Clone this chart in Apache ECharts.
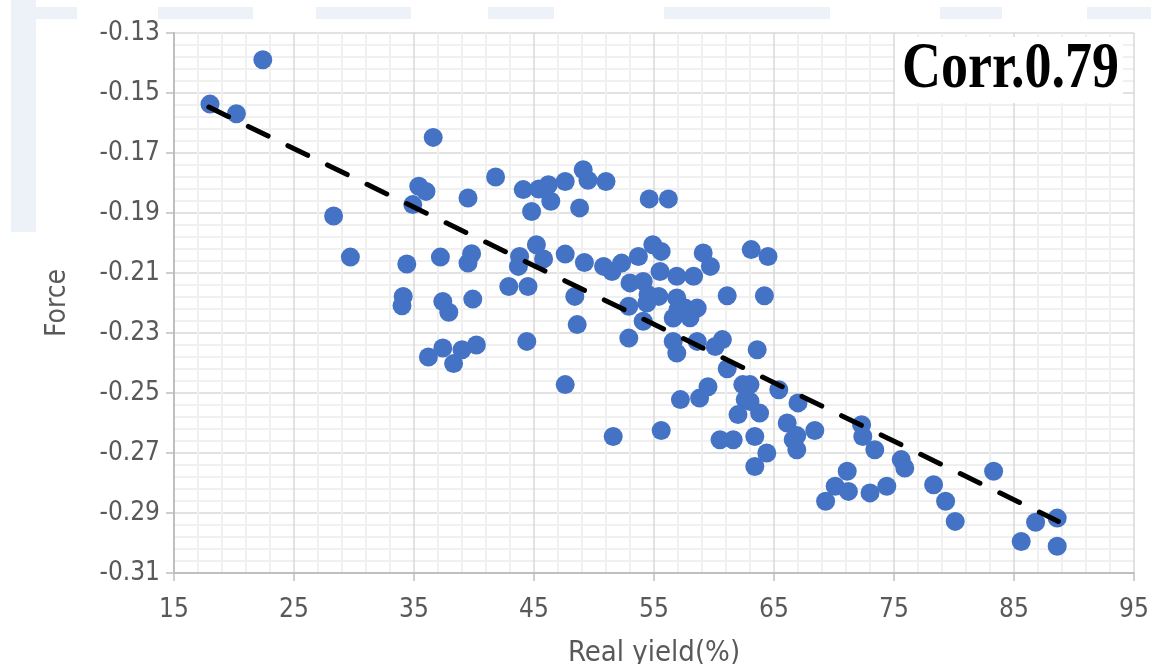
<!DOCTYPE html>
<html>
<head>
<meta charset="utf-8">
<script src="https://cdn.jsdelivr.net/npm/echarts@6/dist/echarts.min.js"></script>
<style>
html,body{margin:0;padding:0;background:#fff;}
#chart{width:1151px;height:664px;}
</style>
</head>
<body>
<div id="chart"></div>
<script>
// ---- data ----
const realYield = [18.0, 20.2, 22.4, 36.6, 35.4, 36.0, 39.5, 41.8, 34.9, 28.3,
  29.7, 34.4, 37.2, 39.8, 39.5, 34.1, 34.0, 37.4, 37.9, 39.9,
  36.2, 37.4, 38.3, 39.0, 40.2, 44.1, 45.4, 46.2, 46.4, 44.8,
  47.6, 49.1, 49.5, 51.0, 48.8, 54.6, 56.2, 45.2, 43.8, 43.7,
  45.8, 47.6, 49.2, 42.9, 44.5, 48.4, 48.6, 44.4, 47.6, 51.6,
  55.6, 50.8, 51.5, 52.3, 53.7, 54.9, 55.6, 55.5, 56.9, 53.0,
  54.1, 54.5, 55.4, 54.4, 56.9, 57.0, 57.6, 58.6, 58.3, 59.1,
  59.7, 52.9, 54.1, 52.9, 56.6, 56.9, 58.6, 56.6, 61.1, 60.7,
  60.1, 63.1, 64.5, 64.2, 58.0, 63.6, 61.1, 62.4, 63.0, 65.4,
  59.5, 58.8, 62.6, 63.0, 62.0, 63.8, 60.5, 61.6, 63.4, 64.4,
  63.4, 66.1, 66.6, 67.0, 57.2, 66.9, 66.9, 68.4, 72.3, 72.4,
  73.4, 71.1, 70.1, 71.2, 69.3, 73.0, 74.4, 75.6, 75.9, 78.3,
  79.3, 80.1, 83.3, 85.6, 86.8, 88.6, 88.6];
const force = [-0.1537, -0.1569, -0.1389, -0.1648, -0.1811, -0.1828, -0.1850, -0.1780, -0.1872, -0.1910,
  -0.2047, -0.2070, -0.2047, -0.2036, -0.2067, -0.2178, -0.2209, -0.2195, -0.2231, -0.2187,
  -0.2380, -0.2350, -0.2402, -0.2356, -0.2340, -0.1822, -0.1820, -0.1806, -0.1861, -0.1895,
  -0.1795, -0.1756, -0.1791, -0.1795, -0.1883, -0.1853, -0.1853, -0.2006, -0.2045, -0.2078,
  -0.2053, -0.2037, -0.2065, -0.2145, -0.2145, -0.2178, -0.2272, -0.2328, -0.2472, -0.2645,
  -0.2625, -0.2078, -0.2095, -0.2067, -0.2045, -0.2006, -0.2028, -0.2095, -0.2111, -0.2133,
  -0.2128, -0.2172, -0.2178, -0.2200, -0.2183, -0.2222, -0.2217, -0.2217, -0.2111, -0.2033,
  -0.2078, -0.2211, -0.2261, -0.2317, -0.2328, -0.2367, -0.2328, -0.2250, -0.2176, -0.2322,
  -0.2345, -0.2022, -0.2045, -0.2176, -0.2249, -0.2356, -0.2419, -0.2472, -0.2472, -0.2489,
  -0.2479, -0.2517, -0.2522, -0.2528, -0.2572, -0.2567, -0.2656, -0.2656, -0.2645, -0.2700,
  -0.2745, -0.2600, -0.2656, -0.2533, -0.2522, -0.2642, -0.2689, -0.2625, -0.2606, -0.2645,
  -0.2689, -0.2761, -0.2811, -0.2828, -0.2861, -0.2833, -0.2811, -0.2722, -0.2750, -0.2806,
  -0.2861, -0.2928, -0.2761, -0.2995, -0.2931, -0.2917, -0.3011];
const trendX = [17.9, 88.7];
const trendY = [-0.1547, -0.2928];
const xTicks = [15, 25, 35, 45, 55, 65, 75, 85, 95];
const yTicks = ['-0.31', '-0.29', '-0.27', '-0.25', '-0.23', '-0.21', '-0.19', '-0.17', '-0.15', '-0.13'];
const corrLabel = 'Corr.0.79';
const xName = 'Real yield(%)';
const yName = 'Force';

// ---- build ----
const points = realYield.map((x, i) => [x, force[i]]);
const trend = trendX.map((x, i) => [x, trendY[i]]);
const labelFont = "'DejaVu Sans Condensed', 'Open Sans', sans-serif";
const axisGray = '#bfbfbf';
const hatch = '#edf2f9';

const chart = echarts.init(document.getElementById('chart'), null, {renderer: 'canvas'});
const option = {
  backgroundColor: '#ffffff',
  animation: false,
  grid: {left: 174, right: 17, top: 33, bottom: 91, containLabel: false, outerBoundsMode: 'none'},
  xAxis: {
    type: 'value',
    min: xTicks[0], max: xTicks[xTicks.length - 1], interval: xTicks[1] - xTicks[0],
    name: xName, nameLocation: 'middle', nameGap: 66,
    nameTextStyle: {fontFamily: labelFont, fontSize: 29, color: '#595959'},
    axisLine: {show: true, onZero: false, lineStyle: {color: axisGray, width: 2}},
    axisTick: {show: true, length: 8, lineStyle: {color: axisGray, width: 1.5}},
    axisLabel: {fontFamily: labelFont, fontSize: 26, color: '#595959', margin: 24,
      formatter: v => String(Math.round(v))},
    splitLine: {show: true, lineStyle: {color: '#d9d9d9', width: 1.5}},
    minorTick: {show: false, splitNumber: 5},
    minorSplitLine: {show: true, lineStyle: {color: '#f0f0f0', width: 2}}
  },
  yAxis: {
    type: 'value',
    min: Number(yTicks[0]), max: Number(yTicks[yTicks.length - 1]), interval: 0.02,
    name: yName, nameLocation: 'middle', nameGap: 102,
    nameTextStyle: {fontFamily: labelFont, fontSize: 28, color: '#595959'},
    axisLine: {show: true, onZero: false, lineStyle: {color: axisGray, width: 2}},
    axisTick: {show: true, length: 8, lineStyle: {color: axisGray, width: 1.5}},
    axisLabel: {fontFamily: labelFont, fontSize: 26, color: '#595959', margin: 14,
      formatter: v => yTicks.find(t => Math.abs(Number(t) - v) < 1e-6) || v.toFixed(2)},
    splitLine: {show: true, lineStyle: {color: '#d9d9d9', width: 1.5}},
    minorTick: {show: false, splitNumber: 5},
    minorSplitLine: {show: true, lineStyle: {color: '#f0f0f0', width: 2}}
  },
  graphic: [
    {type: 'rect', left: 11, top: 0, shape: {width: 25, height: 232}, style: {fill: hatch}, z: 0},
    {type: 'rect', left: 11, top: 7, shape: {width: 66, height: 12}, style: {fill: hatch}, z: 0},
    {type: 'rect', left: 158, top: 7, shape: {width: 95, height: 12}, style: {fill: hatch}, z: 0},
    {type: 'rect', left: 316, top: 7, shape: {width: 95, height: 12}, style: {fill: hatch}, z: 0},
    {type: 'rect', left: 488, top: 7, shape: {width: 66, height: 12}, style: {fill: hatch}, z: 0},
    {type: 'rect', left: 664, top: 7, shape: {width: 166, height: 12}, style: {fill: hatch}, z: 0},
    {type: 'rect', left: 940, top: 7, shape: {width: 62, height: 12}, style: {fill: hatch}, z: 0},
    {type: 'rect', left: 1087, top: 7, shape: {width: 64, height: 12}, style: {fill: hatch}, z: 0},
    {type: 'rect', left: 895, top: 37, shape: {width: 228, height: 66}, style: {fill: '#ffffff'}, z: 50},
    {type: 'text', x: 902, y: 37, scaleY: 1.22, originX: 0, originY: 0, z: 51,
      style: {text: corrLabel, fill: '#000', font: "bold 54px 'Liberation Serif', 'Times New Roman', serif"}}
  ],
  series: [
    {
      type: 'scatter', data: points, symbol: 'circle', symbolSize: 19,
      itemStyle: {color: '#4472C4', opacity: 1}, z: 3
    },
    {
      type: 'line', data: trend, symbol: 'none', silent: true, z: 4,
      lineStyle: {color: '#000000', width: 5, type: [22, 22], cap: 'round'}
    }
  ]
};
chart.setOption(option);
</script>
</body>
</html>
